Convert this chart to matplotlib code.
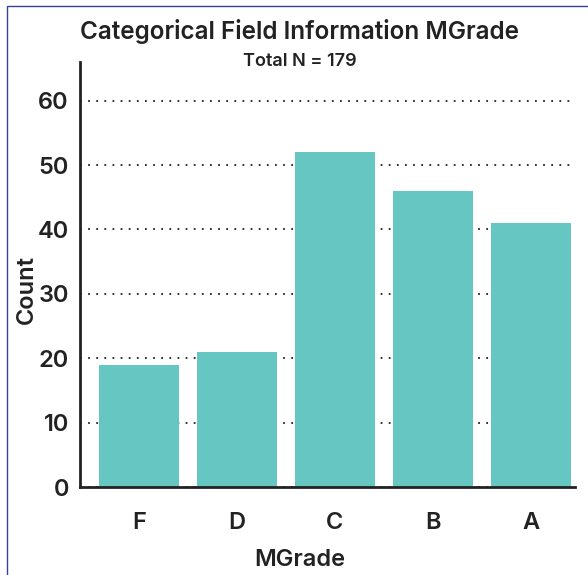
import matplotlib.pyplot as plt
from matplotlib.patches import Rectangle

grades = ['F', 'D', 'C', 'B', 'A']
counts = [19, 21, 52, 46, 41]

plt.rcParams['font.family'] = ['Inter', 'DejaVu Sans']

fig = plt.figure(figsize=(5.88, 5.75), dpi=100)
ax = fig.add_axes([80/588, 88/575, 495/588, 425/575])

ax.bar(range(len(grades)), counts, width=0.82, color='#66c6c1', zorder=2)

ax.set_xlim(-0.6, 4.45)
ax.set_ylim(0, 66)
ax.set_yticks([0, 10, 20, 30, 40, 50, 60])
ax.set_xticks(range(len(grades)))
ax.set_xticklabels(grades)

ax.grid(axis='y', linestyle=(0, (1, 3.5)), color='#222222', linewidth=1.3, zorder=1)
ax.spines['top'].set_visible(False)
ax.spines['right'].set_visible(False)
ax.spines['left'].set_linewidth(2)
ax.spines['bottom'].set_linewidth(2)
ax.spines['left'].set_color('#222222')
ax.spines['bottom'].set_color('#222222')
ax.tick_params(length=0, labelsize=17, colors='#222222')
ax.tick_params(axis='y', pad=8)
ax.tick_params(axis='x', pad=18)
for lab in ax.get_xticklabels() + ax.get_yticklabels():
    lab.set_fontweight('semibold')

ax.set_xlabel('MGrade', fontsize=17, fontweight='semibold', color='#222222')
ax.set_ylabel('Count', fontsize=17, fontweight='semibold', color='#222222')
ax.xaxis.set_label_coords((300 - 80) / 495, -(560 - 487) / 425)
ax.yaxis.set_label_coords(-(80 - 27) / 495, (487 - 290) / 425)
ax.xaxis.label.set_va('center')
ax.yaxis.label.set_va('center')

fig.text(300/588, 1 - 32/575, 'Categorical Field Information MGrade',
         ha='center', va='center', fontsize=17.5, fontweight='semibold', color='#222222')
fig.text(300/588, 1 - 62/575, 'Total N = 179',
         ha='center', va='center', fontsize=13, fontweight='semibold', color='#222222')

fig.patches.append(Rectangle((7/588, -0.1), 1.2, 1 - 6/575 + 0.1, transform=fig.transFigure,
                             fill=False, edgecolor='#3a3f9e', linewidth=1))

fig.savefig('out.png', dpi=100)
